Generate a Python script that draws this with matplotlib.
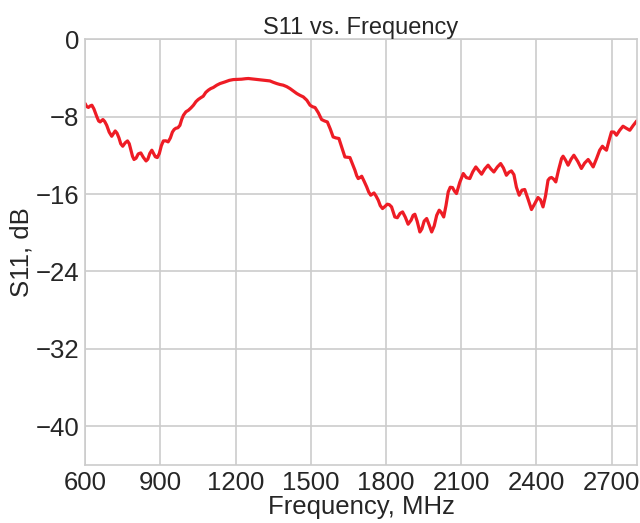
import matplotlib
matplotlib.use('Agg')
import matplotlib.pyplot as plt

# S11 readings: frequency (MHz) and S11 (dB)
FREQ_MHZ = [
    600, 606, 613, 620, 627, 635, 647, 654, 660, 666,
    671, 678, 686, 696, 706, 713, 720, 727, 735, 742,
    750, 760, 769, 776, 782, 789, 795, 803, 812, 822,
    832, 843, 850, 858, 866, 873, 880, 888, 896, 904,
    912, 922, 931, 940, 948, 955, 962, 970, 978, 985,
    992, 1002, 1012, 1022, 1032, 1042, 1051, 1061, 1071, 1081,
    1091, 1101, 1111, 1125, 1138, 1158, 1175, 1191, 1210, 1224,
    1240, 1251, 1265, 1277, 1295, 1311, 1325, 1337, 1350, 1364,
    1377, 1390, 1404, 1417, 1430, 1444, 1457, 1470, 1484, 1497,
    1507, 1517, 1530, 1543, 1555, 1566, 1578, 1589, 1600, 1612,
    1624, 1636, 1646, 1656, 1666, 1676, 1683, 1689, 1696, 1703,
    1713, 1723, 1731, 1739, 1746, 1752, 1760, 1769, 1777, 1786,
    1795, 1805, 1813, 1822, 1829, 1835, 1845, 1856, 1866, 1877,
    1888, 1900, 1908, 1915, 1924, 1935, 1943, 1952, 1962, 1972,
    1982, 1992, 2002, 2012, 2020, 2030, 2039, 2048, 2056, 2065,
    2073, 2081, 2094, 2108, 2120, 2134, 2146, 2158, 2170, 2181,
    2194, 2207, 2218, 2230, 2244, 2257, 2268, 2280, 2290, 2300,
    2310, 2320, 2331, 2342, 2353, 2366, 2380, 2393, 2406, 2416,
    2426, 2436, 2446, 2453, 2460, 2468, 2477, 2488, 2500, 2506,
    2516, 2526, 2538, 2549, 2564, 2579, 2592, 2606, 2616, 2626,
    2640, 2652, 2663, 2671, 2679, 2690, 2699, 2709, 2719, 2732,
    2745, 2758, 2772, 2786, 2800,
]
S11_DB = [
    -6.65, -6.95, -7.05, -6.90, -6.82, -7.20, -8.03, -8.45, -8.55, -8.40,
    -8.30, -8.50, -8.89, -9.60, -10.03, -9.75, -9.48, -9.70, -10.20, -10.80,
    -11.06, -10.70, -10.51, -10.80, -11.40, -12.10, -12.43, -12.30, -11.85, -11.75,
    -12.20, -12.58, -12.40, -11.80, -11.47, -11.80, -12.15, -12.23, -11.80, -11.00,
    -10.51, -10.50, -10.61, -10.20, -9.60, -9.33, -9.20, -9.15, -8.90, -8.30,
    -7.86, -7.50, -7.34, -7.10, -6.82, -6.45, -6.23, -6.05, -5.89, -5.50,
    -5.27, -5.10, -4.99, -4.75, -4.58, -4.41, -4.25, -4.17, -4.15, -4.13,
    -4.08, -4.06, -4.10, -4.13, -4.18, -4.24, -4.28, -4.31, -4.45, -4.58,
    -4.68, -4.75, -4.90, -5.10, -5.35, -5.61, -5.80, -5.96, -6.30, -6.82,
    -6.98, -7.06, -7.60, -8.30, -8.45, -8.55, -9.30, -10.10, -10.20, -10.26,
    -11.20, -12.17, -12.20, -12.23, -12.90, -13.54, -14.10, -14.40, -14.30, -14.16,
    -14.70, -15.27, -15.80, -16.12, -16.00, -15.89, -16.20, -16.64, -17.20, -17.50,
    -17.30, -17.05, -17.10, -17.33, -17.90, -18.37, -18.45, -18.00, -17.85, -18.40,
    -19.12, -18.70, -18.20, -18.09, -18.80, -19.92, -19.60, -18.80, -18.53, -19.20,
    -19.92, -19.30, -18.20, -17.67, -17.90, -18.37, -17.20, -15.78, -15.30, -15.33,
    -15.70, -15.95, -14.80, -13.88, -14.30, -14.40, -13.70, -13.20, -13.60, -13.95,
    -13.40, -13.02, -13.40, -13.72, -13.20, -12.85, -13.30, -14.06, -13.75, -13.61,
    -14.00, -15.30, -16.12, -15.60, -15.53, -16.50, -17.60, -17.00, -16.36, -16.60,
    -17.33, -16.20, -14.57, -14.35, -14.29, -14.45, -14.75, -13.50, -12.33, -12.09,
    -12.50, -13.02, -12.40, -11.99, -12.60, -13.36, -12.80, -12.43, -12.80, -13.20,
    -12.30, -11.47, -11.06, -11.30, -11.47, -10.40, -9.58, -9.60, -9.92, -9.40,
    -8.99, -9.20, -9.41, -8.90, -8.44,
]
X_TICKS = [600, 900, 1200, 1500, 1800, 2100, 2400, 2700]
Y_TICKS = [0, -8, -16, -24, -32, -40]
Y_TICK_LABELS = ['0', '\u22128', '\u221216', '\u221224', '\u221232', '\u221240']

plt.rcParams.update({
    'font.family': ['Liberation Sans', 'DejaVu Sans'],
    'font.size': 16,
    'axes.edgecolor': '#cccccc',
    'axes.linewidth': 1.2,
    'grid.color': '#cccccc',
    'grid.linewidth': 1.2,
    'text.color': '#262626',
    'axes.labelcolor': '#262626',
    'xtick.color': '#262626',
    'ytick.color': '#262626',
})

fig = plt.figure(figsize=(6.4, 5.23), dpi=100)
ax = fig.add_axes([0.133, 0.111, 0.862, 0.814])

ax.plot(FREQ_MHZ, S11_DB, color='#ee1c25', linewidth=2.3,
        solid_joinstyle='round', solid_capstyle='round')

ax.set_xlim(600, 2800)
ax.set_ylim(-44, 0)
ax.set_xticks(X_TICKS)
ax.set_yticks(Y_TICKS)
ax.set_yticklabels(Y_TICK_LABELS)
ax.tick_params(length=0, labelsize=18.5, pad=4)
ax.grid(True)
ax.set_axisbelow(True)

ax.set_title('S11 vs. Frequency', fontsize=17, pad=3)
ax.set_xlabel('Frequency, MHz', fontsize=18.5, labelpad=0)
ax.set_ylabel('S11, dB', fontsize=18.5, labelpad=2)

fig.savefig('out.png', dpi=100)
